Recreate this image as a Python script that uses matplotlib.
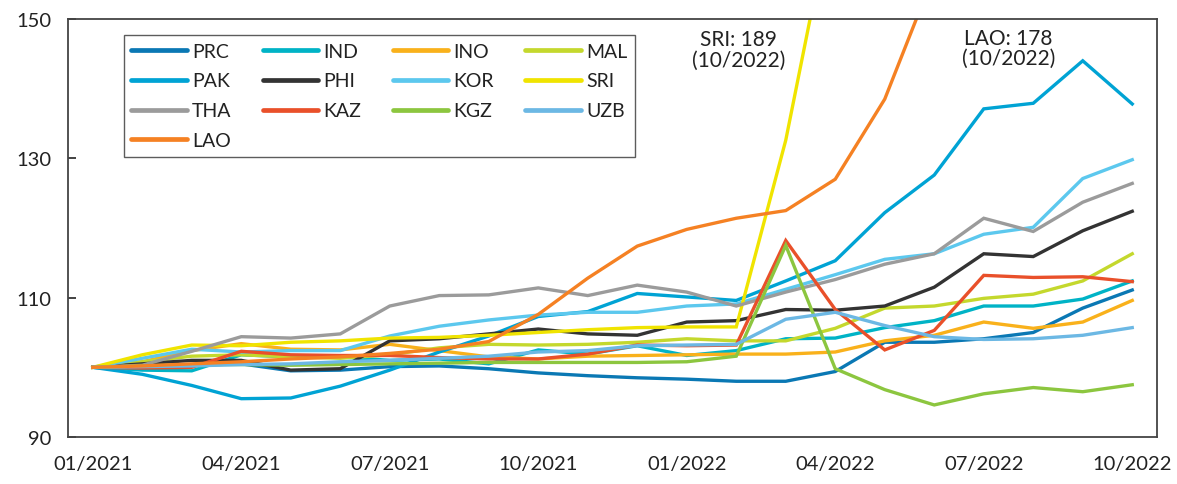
import matplotlib
matplotlib.use("Agg")
import matplotlib.pyplot as plt
from matplotlib.lines import Line2D

plt.rcParams['font.family'] = ['Lato', 'DejaVu Sans']

months = ["01/2021", "02/2021", "03/2021", "04/2021", "05/2021", "06/2021",
          "07/2021", "08/2021", "09/2021", "10/2021", "11/2021", "12/2021",
          "01/2022", "02/2022", "03/2022", "04/2022", "05/2022", "06/2022",
          "07/2022", "08/2022", "09/2022", "10/2022"]
tick_labels = ["01/2021", "04/2021", "07/2021", "10/2021",
               "01/2022", "04/2022", "07/2022", "10/2022"]

PRC = [100, 99.8, 100.3, 100.5, 99.5, 99.6, 100.1, 100.2, 99.8, 99.2, 98.8, 98.5,
       98.3, 98.0, 98.0, 99.4, 103.6, 103.6, 104.1, 105.0, 108.5, 111.1]
IND = [100, 99.6, 99.5, 101.8, 101.5, 101.5, 101.0, 101.2, 100.5, 102.5, 101.9, 103.1,
       101.7, 102.4, 104.1, 104.2, 105.7, 106.7, 108.8, 108.8, 109.8, 112.4]
INO = [100, 100.8, 102.4, 103.4, 102.6, 102.5, 103.3, 102.4, 101.5, 101.2, 101.6, 101.7,
       101.8, 101.9, 101.9, 102.2, 103.8, 104.6, 106.5, 105.6, 106.5, 109.6]
MAL = [100, 100.8, 101.6, 101.8, 101.5, 101.3, 101.8, 102.8, 103.3, 103.2, 103.3, 103.6,
       104.1, 103.8, 103.8, 105.6, 108.5, 108.8, 109.9, 110.5, 112.4, 116.3]
PAK = [100, 99.0, 97.4, 95.5, 95.6, 97.3, 99.6, 102.2, 104.5, 107.3, 108.0, 110.6,
       110.1, 109.6, 112.4, 115.3, 122.2, 127.6, 137.1, 137.9, 144.0, 137.8]
PHI = [100, 100.5, 101.0, 101.0, 99.6, 99.8, 103.8, 104.1, 104.8, 105.5, 104.8, 104.6,
       106.5, 106.7, 108.3, 108.2, 108.8, 111.5, 116.3, 115.9, 119.6, 122.4]
KOR = [100, 101.3, 102.6, 102.2, 102.4, 102.4, 104.5, 105.9, 106.8, 107.5, 107.9, 107.9,
       108.8, 109.1, 111.2, 113.3, 115.5, 116.3, 119.1, 120.1, 127.1, 129.8]
SRI = [100, 101.8, 103.2, 103.1, 103.6, 103.8, 104.2, 104.3, 104.6, 105.0, 105.4, 105.7,
       105.8, 105.8, 132.6, 168.0, 175.0, 180.0, 184.0, 186.0, 188.0, 189.0]
THA = [100, 100.3, 102.3, 104.4, 104.2, 104.8, 108.8, 110.3, 110.4, 111.4, 110.3, 111.8,
       110.8, 108.8, 110.8, 112.6, 114.8, 116.3, 121.4, 119.5, 123.7, 126.4]
KAZ = [100, 99.9, 100.0, 102.3, 101.8, 101.7, 101.7, 101.4, 101.2, 101.2, 101.9, 103.2,
       103.1, 103.2, 118.2, 108.3, 102.5, 105.3, 113.2, 112.9, 113.0, 112.3]
KGZ = [100, 100.2, 100.4, 100.4, 100.3, 100.4, 100.5, 100.6, 100.7, 100.7, 100.7, 100.7,
       100.8, 101.6, 117.5, 99.8, 96.8, 94.6, 96.2, 97.1, 96.5, 97.5]
UZB = [100, 100.1, 100.2, 100.4, 100.5, 100.8, 101.0, 101.3, 101.6, 102.2, 102.4, 103.1,
       103.2, 103.3, 106.9, 107.9, 106.0, 104.4, 104.0, 104.1, 104.6, 105.7]
LAO = [100, 100.2, 100.5, 100.8, 101.2, 101.5, 102.0, 102.6, 103.7, 107.6, 112.8, 117.4,
       119.8, 121.4, 122.5, 127.0, 138.5, 156.5, 162.0, 167.0, 172.0, 178.0]

series = [
    ("PRC", PRC, "#0a78b4"),
    ("IND", IND, "#00b3c6"),
    ("INO", INO, "#f9b11b"),
    ("MAL", MAL, "#c4d82d"),
    ("PAK", PAK, "#00a3d4"),
    ("PHI", PHI, "#333333"),
    ("KOR", KOR, "#5cc8ee"),
    ("SRI", SRI, "#f0e400"),
    ("THA", THA, "#9b9b9b"),
    ("KAZ", KAZ, "#e9502a"),
    ("KGZ", KGZ, "#8cc63f"),
    ("UZB", UZB, "#6cb8e4"),
    ("LAO", LAO, "#f58123"),
]

fig = plt.figure(figsize=(11.77, 4.85), dpi=100)
ax = fig.add_axes([0.0578, 0.0969, 0.9252, 0.8619])

x = list(range(len(months)))
handles = {}
for name, vals, col in series:
    (ln,) = ax.plot(x, vals, color=col, lw=2.4, solid_joinstyle='miter', label=name)
    handles[name] = ln

ax.set_xlim(-0.5, len(months) - 0.5)
ax.set_ylim(90, 150)
ax.set_yticks([90, 110, 130, 150])
ax.set_xticks([months.index(t) for t in tick_labels])
ax.set_xticklabels(tick_labels)
ax.tick_params(axis='x', length=0, pad=13, labelsize=14.5, colors='#222222')
ax.tick_params(axis='y', direction='in', length=6, width=1.2, pad=12,
               labelsize=14.5, colors='#222222')
for sp in ax.spines.values():
    sp.set_color('#444444')
    sp.set_linewidth(1.3)

order = ["PRC", "PAK", "THA", "LAO", "IND", "PHI", "KAZ",
         "INO", "KOR", "KGZ", "MAL", "SRI", "UZB"]
leg_handles = [Line2D([], [], color=handles[n].get_color(), lw=3.4,
                      solid_capstyle='round') for n in order]
leg = ax.legend(leg_handles, order, ncol=4, loc='upper left',
                bbox_to_anchor=(0.051, 0.962), frameon=True, fancybox=False,
                fontsize=14, handlelength=2.85, handletextpad=0.28,
                columnspacing=1.6, labelspacing=0.66, borderpad=0.4,
                borderaxespad=0)
leg.get_frame().set_edgecolor('#333333')
leg.get_frame().set_linewidth(1.0)
for t in leg.get_texts():
    t.set_color('#222222')

ax.text(13.05, 148.5, "SRI: 189\n(10/2022)", ha='center', va='top',
        fontsize=15, color='#222222', linespacing=1.0)
ax.text(18.5, 148.7, "LAO: 178\n(10/2022)", ha='center', va='top',
        fontsize=15, color='#222222', linespacing=1.0)

fig.savefig("out.png", dpi=100)
